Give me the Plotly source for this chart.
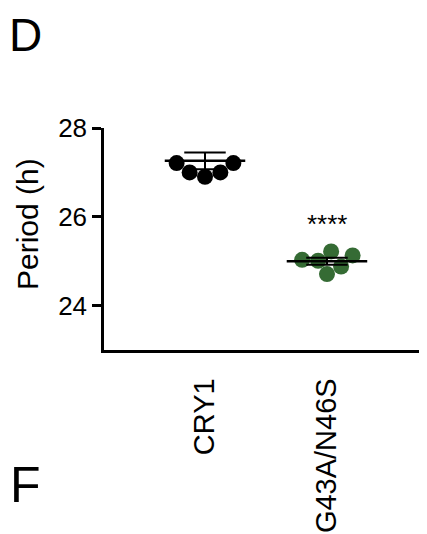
import numpy as np
import plotly.graph_objects as go

# ---- data ----
groups = ["CRY1", "G43A/N46S"]
cry1_periods = [27.21, 27.00, 26.90, 27.00, 27.21]
mutant_periods = [25.03, 25.13, 24.71, 24.88, 25.22, 25.01]
group_means = [27.26, 25.00]
group_sems = [0.19, 0.08]
sig_label = "****"
sig_y = 25.83
y_ticks = [24, 26, 28]
y_range = [23, 28]

# ---- layout constants (page has an 8px body margin) ----
OFF = 8
W, H = 427 - OFF, 534 - OFF
L, R, T, B = 104 - OFF, 0, 128 - OFF, 184
plot_w = W - L - R
plot_h = H - T - B
x_range = [-0.828, 1.820]
px_per_x = plot_w / (x_range[1] - x_range[0])
px_per_y = plot_h / (y_range[1] - y_range[0])
DOT = 16  # marker diameter in px

def beeswarm(values, center):
    """Place points as close to the center as possible without overlap."""
    order = np.argsort(values)
    placed = []  # (x_px, y_px)
    xs = [0.0] * len(values)
    for idx in order:
        ypx = values[idx] * px_per_y
        cands = [0.0]
        for (px, py) in placed:
            dy = abs(ypx - py)
            if dy < DOT:
                dx = np.sqrt(DOT ** 2 - dy ** 2)
                cands += [px + dx, px - dx]
        cands.sort(key=lambda c: (abs(c), -c))
        for c in cands:
            ok = all((c - px) ** 2 + (ypx - py) ** 2 >= DOT ** 2 - 1e-6 for px, py in placed)
            if ok:
                placed.append((c, ypx))
                xs[idx] = c
                break
    return [center + x / px_per_x for x in xs]

fig = go.Figure()

series = [cry1_periods, mutant_periods]
colors = ["#000000", "#356b34"]
for i, (vals, col) in enumerate(zip(series, colors)):
    fig.add_trace(go.Scatter(
        x=beeswarm(vals, i), y=vals, mode="markers",
        marker=dict(size=DOT, color=col, line=dict(width=0)),
        showlegend=False, hoverinfo="skip"))

# mean lines and SEM error bars
lx, ly = [], []
for i, (m, s) in enumerate(zip(group_means, group_sems)):
    lx += [i - 0.33, i + 0.33, None]
    ly += [m, m, None]
ex, ey = [], []
for i, (m, s) in enumerate(zip(group_means, group_sems)):
    ex += [i, i, None, i - 0.17, i + 0.17, None, i - 0.17, i + 0.17, None]
    ey += [m - s, m + s, None, m + s, m + s, None, m - s, m - s, None]
fig.add_trace(go.Scatter(x=ex, y=ey, mode="lines", line=dict(color="black", width=2),
                         showlegend=False, hoverinfo="skip"))
fig.add_trace(go.Scatter(x=lx, y=ly, mode="lines", line=dict(color="black", width=2.5),
                         showlegend=False, hoverinfo="skip"))

FONT = "Liberation Sans, Arial, sans-serif"

def xp(px):
    return (px - OFF - L) / plot_w

def yp(py):
    return (H - B - (py - OFF)) / plot_h

fig.add_annotation(x=1, y=sig_y, xref="x", yref="y", text=sig_label, showarrow=False,
                   font=dict(size=26, color="black", family=FONT),
                   xanchor="center", yanchor="middle")
fig.add_annotation(x=xp(27), y=yp(224), xref="paper", yref="paper", text="Period (h)",
                   textangle=-90, showarrow=False,
                   font=dict(size=30, color="black", family=FONT),
                   xanchor="center", yanchor="middle")
fig.add_annotation(x=xp(OFF), y=yp(OFF), xref="paper", yref="paper", text="D",
                   showarrow=False, font=dict(size=46, color="black", family=FONT),
                   xanchor="left", yanchor="top", borderpad=0)
fig.add_annotation(x=xp(25), y=yp(485), xref="paper", yref="paper", text="F",
                   showarrow=False, font=dict(size=50, color="black", family=FONT),
                   xanchor="center", yanchor="middle")

fig.update_layout(
    width=W, height=H,
    margin=dict(l=L, r=R, t=T, b=B, pad=0),
    paper_bgcolor="white", plot_bgcolor="white",
    font=dict(family=FONT, color="black"),
    xaxis=dict(range=x_range, tickvals=[0, 1], ticktext=groups, tickangle=-90,
               showgrid=False, zeroline=False, showline=True, linecolor="black",
               linewidth=2.5, ticks="", ticklabelstandoff=14,
               tickfont=dict(size=29, family=FONT, color="black")),
    yaxis=dict(range=y_range, tickvals=y_ticks, showgrid=False, zeroline=False,
               showline=True, linecolor="black", linewidth=2.5,
               ticks="outside", ticklen=9, tickwidth=2.5, tickcolor="black",
               tickfont=dict(size=26, family=FONT, color="black")),
)

fig.write_html("out.html")
